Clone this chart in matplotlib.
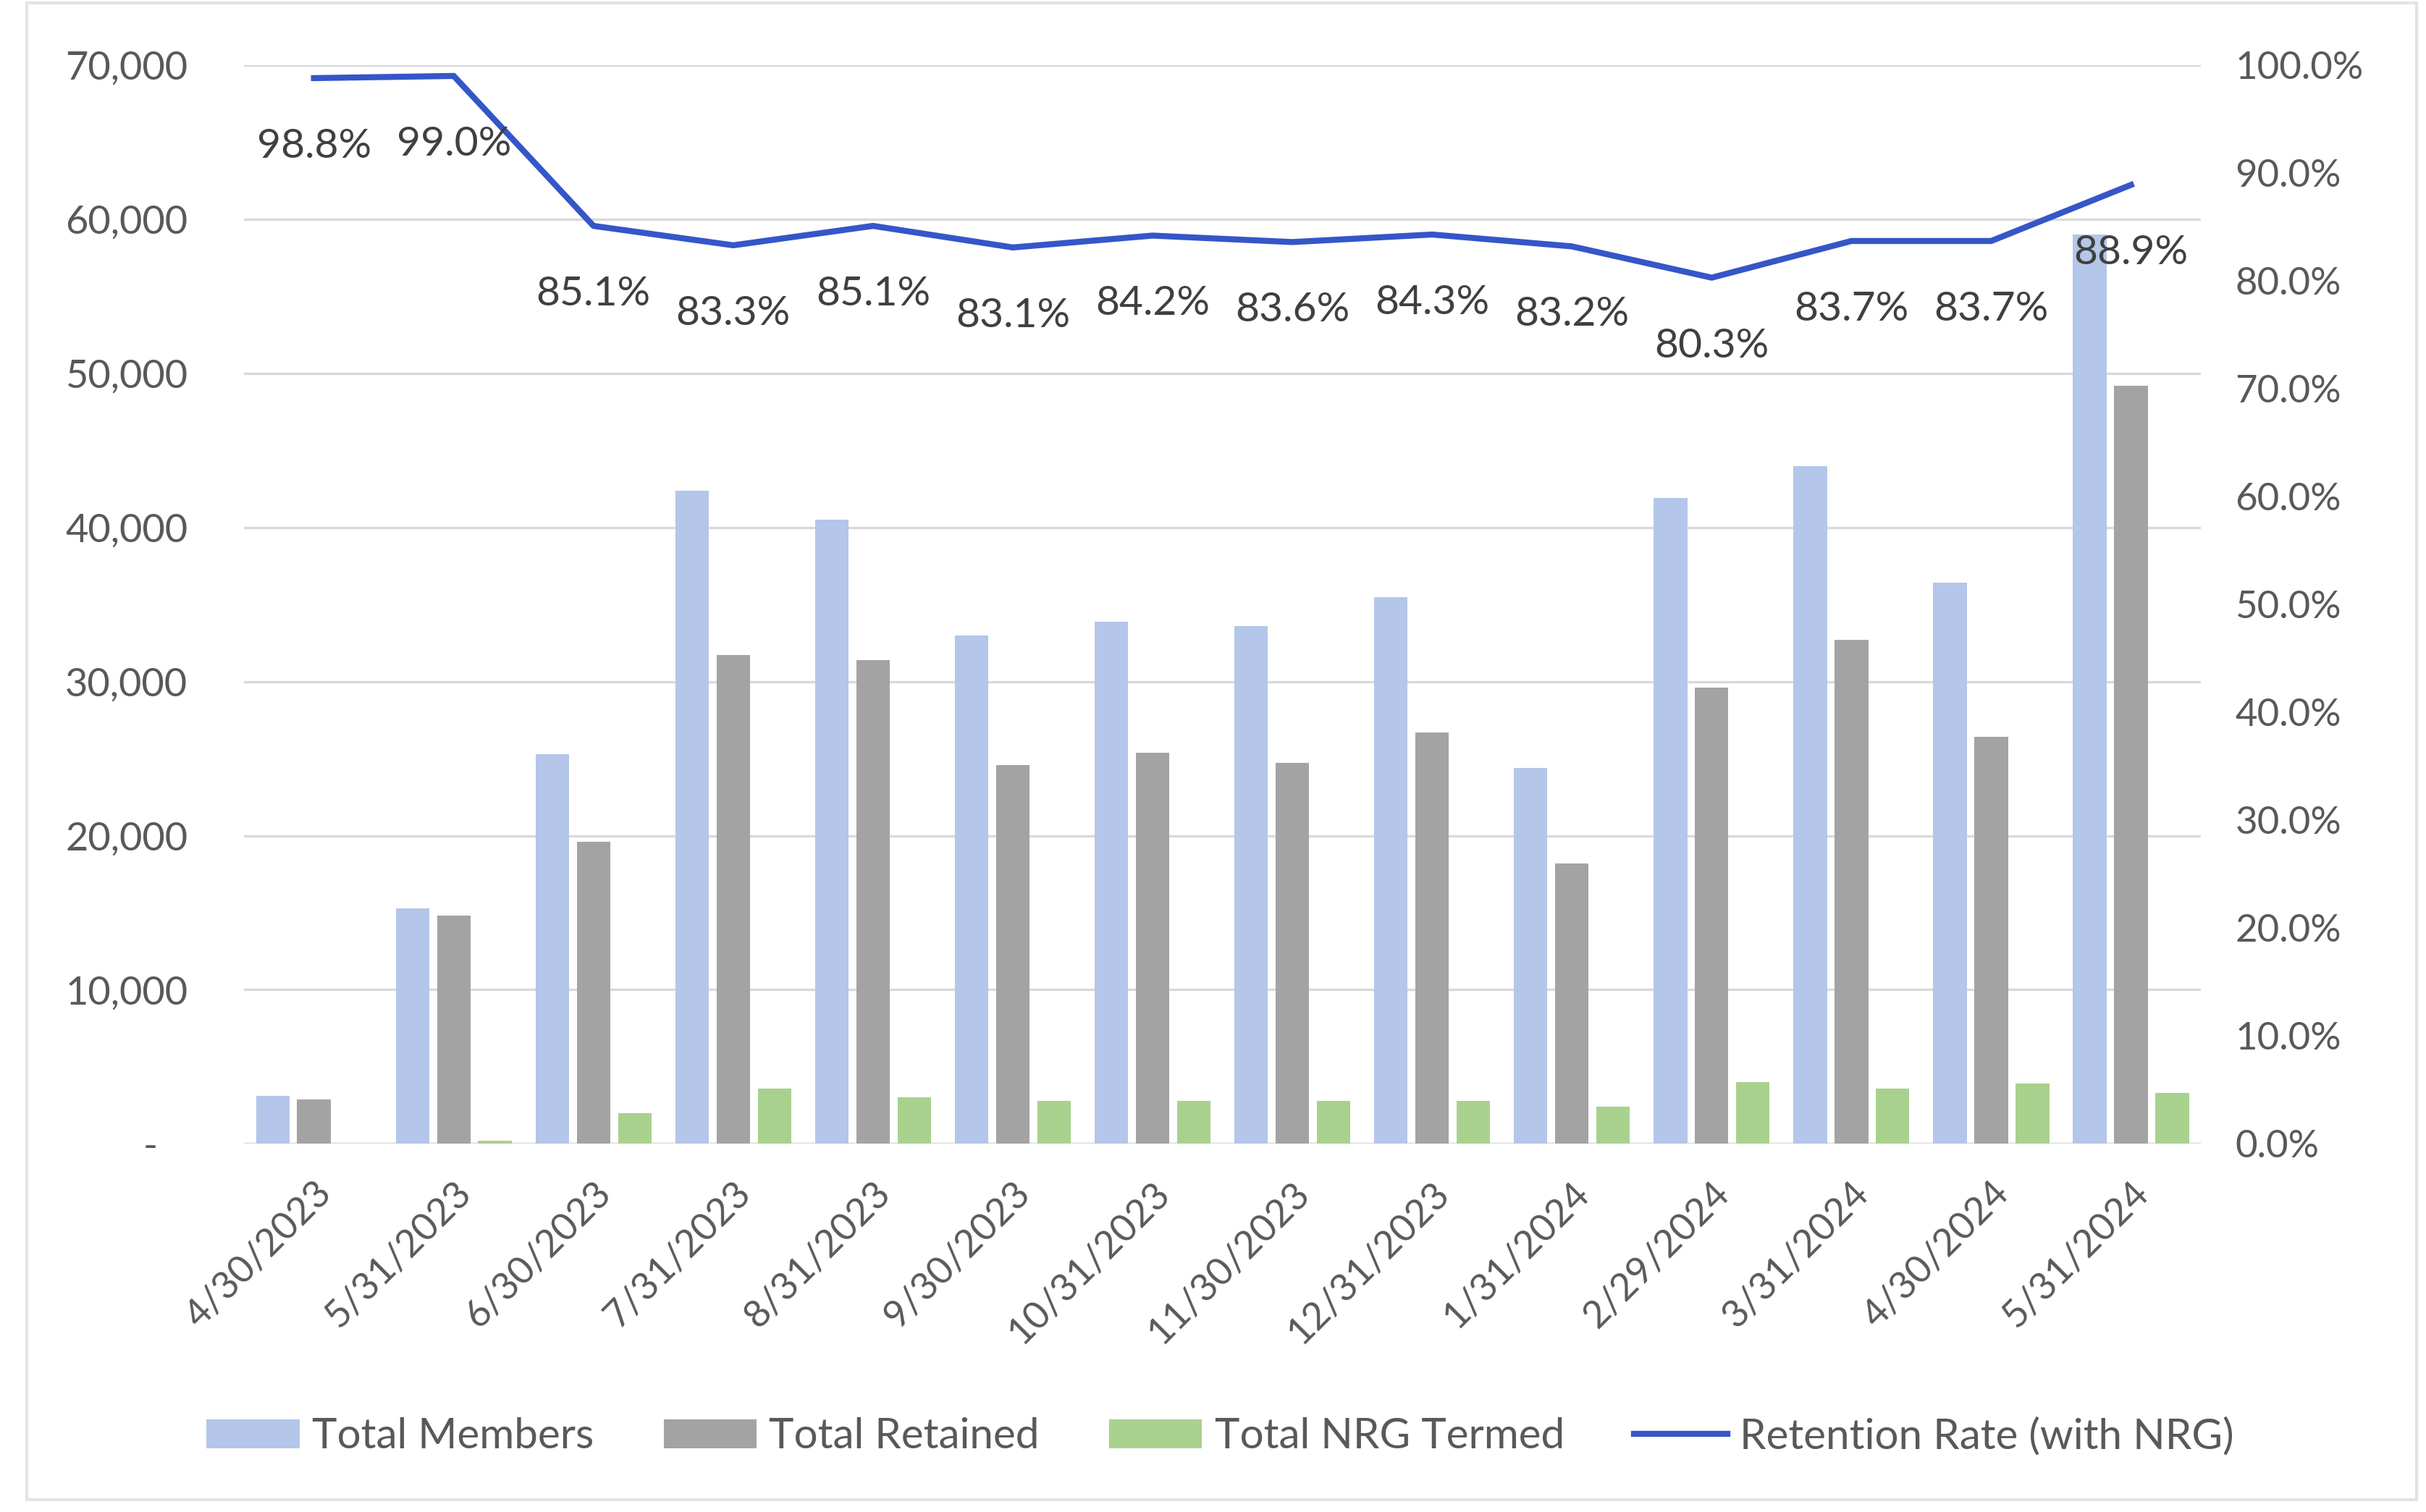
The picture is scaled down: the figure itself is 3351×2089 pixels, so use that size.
import matplotlib
matplotlib.use("Agg")
import numpy as np
import matplotlib.pyplot as plt
from matplotlib.ticker import FuncFormatter, MultipleLocator
from matplotlib.patches import Rectangle

plt.rcParams["font.family"] = ["Lato", "DejaVu Sans"]

# monthly member counts and retention
months = ["4/30/2023", "5/31/2023", "6/30/2023", "7/31/2023", "8/31/2023",
          "9/30/2023", "10/31/2023", "11/30/2023", "12/31/2023", "1/31/2024",
          "2/29/2024", "3/31/2024", "4/30/2024", "5/31/2024"]
total_members = [3100, 15300, 25300, 42400, 40500, 33000, 33900, 33600,
                 35500, 24400, 41900, 44000, 36400, 59000]
total_retained = [2900, 14800, 19600, 31700, 31400, 24600, 25400, 24700,
                  26700, 18200, 29600, 32700, 26400, 49200]
nrg_termed = [0, 200, 2000, 3600, 3000, 2800, 2800, 2800,
              2800, 2400, 4000, 3600, 3900, 3300]
retention_rate = [98.8, 99.0, 85.1, 83.3, 85.1, 83.1, 84.2, 83.6,
                  84.3, 83.2, 80.3, 83.7, 83.7, 88.9]

c_members = "#b4c6e9"
c_retained = "#a3a3a3"
c_nrg = "#a9d18e"
c_line = "#3556c8"
c_text = "#595959"

fig = plt.figure(figsize=(16.755, 10.445), dpi=200)
ax = fig.add_axes([0.1006, 0.2435, 0.8066, 0.7134])
ax2 = ax.twinx()

x = np.arange(len(months))
w = 0.24
step = 0.295
ax.bar(x - step, total_members, w, color=c_members, label="Total Members", zorder=2)
ax.bar(x, total_retained, w, color=c_retained, label="Total Retained", zorder=2)
ax.bar(x + step, nrg_termed, w, color=c_nrg, label="Total NRG Termed", zorder=2)

rate = np.array(retention_rate) / 100
ax2.plot(x, rate, color=c_line, lw=3, label="Retention Rate (with NRG)",
         solid_joinstyle="round", zorder=3)
for xi, r in zip(x, retention_rate):
    ax2.annotate(f"{r:.1f}%", (xi, r / 100), xytext=(0, -34),
                 textcoords="offset points", ha="center", va="center",
                 fontsize=20.5, color="#404040")

ax.set_xlim(-0.5, len(months) - 0.5)
ax.set_ylim(0, 70000)
ax2.set_ylim(0, 1.0)
ax.yaxis.set_major_locator(MultipleLocator(10000))
ax2.yaxis.set_major_locator(MultipleLocator(0.1))
ax.yaxis.set_major_formatter(FuncFormatter(
    lambda v, p: "-   " if v == 0 else f"{v:,.0f}"))
ax2.yaxis.set_major_formatter(FuncFormatter(lambda v, p: f"{v * 100:.1f}%"))

ax.set_axisbelow(True)
ax.grid(axis="y", color="#d9d9d9", lw=1.2)
ax.axhline(0, color="#d9d9d9", lw=1.2, zorder=1)

ax.set_xticks(x)
ax.set_xticklabels(months, rotation=45, ha="right", rotation_mode="anchor")
ax.tick_params(axis="x", length=0, pad=16, labelsize=19, labelcolor=c_text)
ax.tick_params(axis="y", length=0, pad=28, labelsize=19.5, labelcolor=c_text)
ax2.tick_params(axis="y", length=0, pad=17, labelsize=19, labelcolor=c_text)

for a in (ax, ax2):
    for s in a.spines.values():
        s.set_visible(False)

h1, l1 = ax.get_legend_handles_labels()
h2, l2 = ax2.get_legend_handles_labels()
fig.legend(h1 + h2, l1 + l2, loc="center", bbox_to_anchor=(0.503, 0.05),
           ncol=4, frameon=False, fontsize=21, labelcolor=c_text,
           handlelength=2.2, handleheight=0.7, handletextpad=0.3,
           columnspacing=1.65)

# light chart frame
fig.patches.append(Rectangle((0.011, 0.008), 0.985, 0.99, transform=fig.transFigure,
                             fill=False, edgecolor="#e3e3e3", lw=1.5))

fig.savefig("out.png", dpi=200)
